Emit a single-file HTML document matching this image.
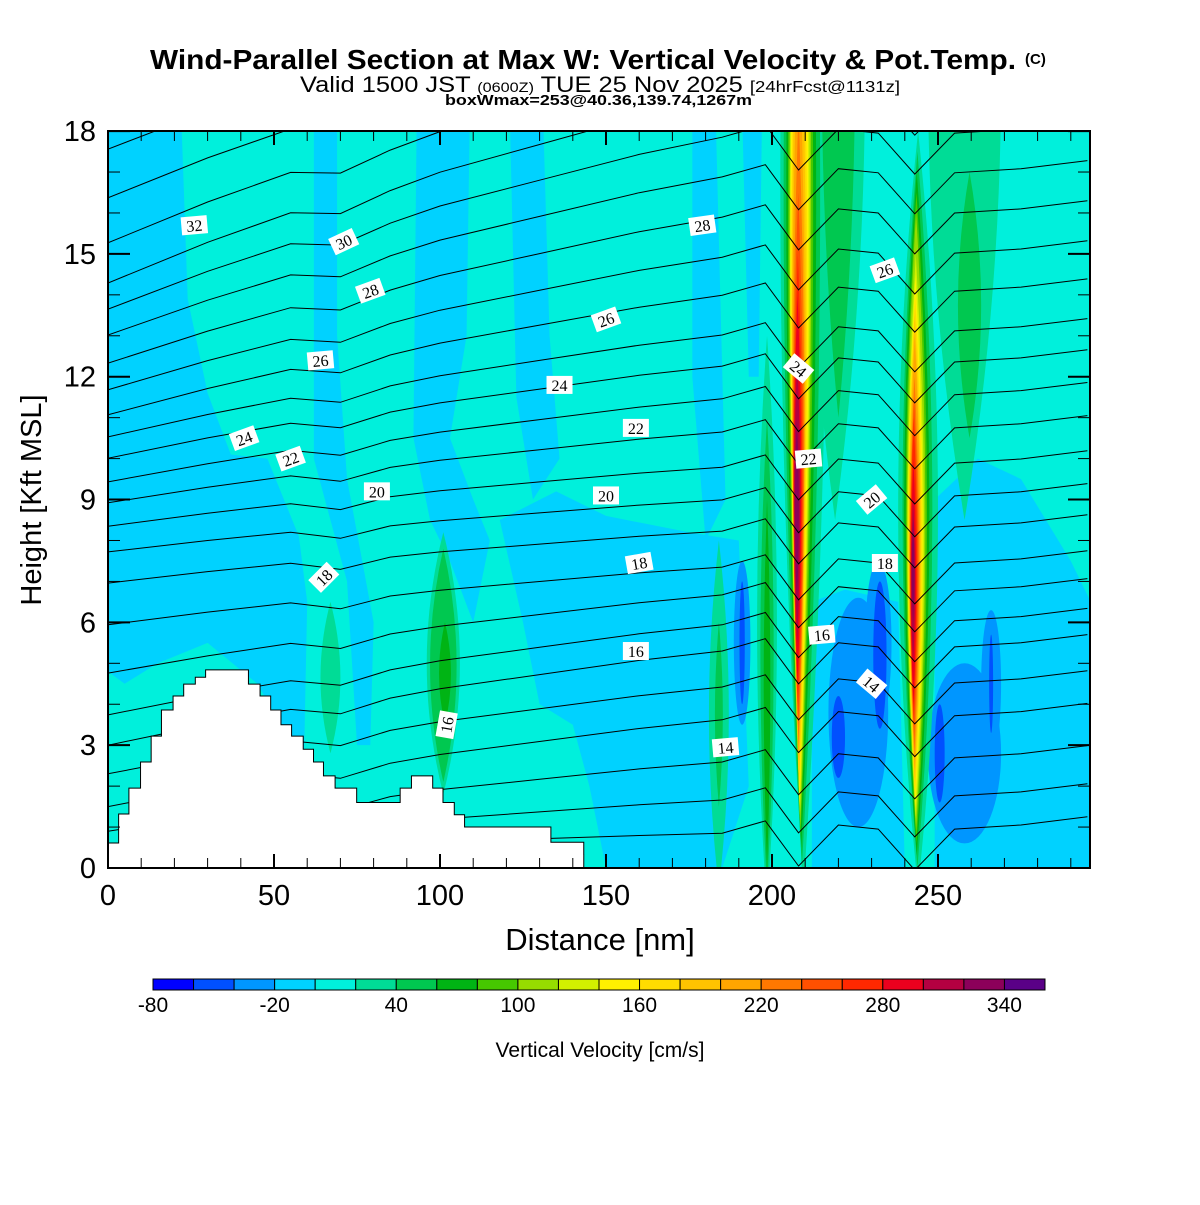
<!DOCTYPE html>
<html><head><meta charset="utf-8">
<style>
html,body{margin:0;padding:0;background:#fff;}
body{width:1200px;height:1200px;overflow:hidden;font-family:"Liberation Sans",sans-serif;}
</style></head>
<body>
<svg id="chart" width="1200" height="1200" viewBox="0 0 1200 1200" xmlns="http://www.w3.org/2000/svg" font-family="Liberation Sans, sans-serif">
<defs><clipPath id="plotclip"><rect x="108" y="131" width="982" height="737"/></clipPath></defs>
<g>
<text x="150" y="69" font-size="28" font-weight="bold" textLength="866" lengthAdjust="spacingAndGlyphs">Wind-Parallel Section at Max W: Vertical Velocity &amp; Pot.Temp.</text>
<text x="1025" y="64" font-size="15" font-weight="bold">(C)</text>
<text x="300" y="92" font-size="22" textLength="600" lengthAdjust="spacingAndGlyphs">Valid 1500 JST <tspan font-size="14">(0600Z)</tspan> TUE 25 Nov 2025 <tspan font-size="16">[24hrFcst@1131z]</tspan></text>
<text x="445" y="105" font-size="15" font-weight="bold" textLength="307" lengthAdjust="spacingAndGlyphs">boxWmax=253@40.36,139.74,1267m</text>
</g>
<g id="plot" clip-path="url(#plotclip)"></g>
<g id="axes"></g>
<g id="cbar"></g>
<text x="600" y="950" text-anchor="middle" font-size="31">Distance [nm]</text>
<text transform="translate(41,500) rotate(-90)" text-anchor="middle" font-size="29">Height [Kft MSL]</text>
<text x="600" y="1057" text-anchor="middle" font-size="21">Vertical Velocity [cm/s]</text>
</svg>
<script>
// ---- data ----
const levelValues = [-80,-60,-40,-20,0,20,40,60,80,100,120,140,160,180,200,220,240,260,280,300,320,340];
const levelColors = ["#0000FF","#0050FF","#0096FF","#00D2FF","#00F0DC","#00DC96","#00C850","#00B414","#46C800","#96DC00","#D2F000","#FFF000","#FFDC00","#FFC300","#FFA500","#FF7800","#FF5000","#FF2800","#EB001E","#B40041","#8C005A","#5A0087"];
const cbarLabels = [-80,-20,40,100,160,220,280,340];
const xTicks = [0,50,100,150,200,250];
const yTicks = [0,3,6,9,12,15,18];
// sky-blue (-20..0) regions: polygons in [nm, kft]
const skyRegions = [
 [[0,18.5],[22,18.5],[24,13.9],[30,11.6],[37,10.1],[48,10],[57.5,8.1],[60,6.5],[59,2.5],[45,4.5],[30,5.5],[15,5],[5,4.5],[0,4.8]],
 [[62,18.5],[69,18.5],[69,13],[72,9.5],[80,6],[79,3],[75,3],[72,7],[62,10]],
 [[93,18.5],[109,18.5],[108,13],[103,10.5],[110,9],[115,8],[110,6],[103,7.5],[97,8.5],[92,10.5]],
 [[121,18.5],[131,18.5],[133,13],[136,10],[128,9],[123,11.5]],
 [[118,8.5],[135,9.2],[150,8.6],[175,8.2],[190,8],[193,2],[185,0],[150,0],[145,2],[140,3.5],[130,4],[125,6]],
 [[176,18.5],[183,18.5],[186,9],[180,8],[176,12]],
 [[191,18.5],[197,18.5],[196,12],[193,12]],
 [[212,6.5],[222,6.8],[238,6.5],[240,0],[212,0]],
 [[249,9],[262,10],[275,9.5],[290,7.5],[296,6.5],[296,0],[249,0]]
];
// negative cores: [value, cx nm, rx nm, cy kft, ry kft]
const downdrafts = [
 [-40,226,9,3.8,2.8],[-40,258,11,2.8,2.2],[-40,232,4,5.5,2],[-40,191,2.5,5.5,2],[-40,266,3,4.5,1.8],
 [-60,220,2,3.2,1],[-60,232.5,2,5.2,1.8],[-60,250.5,1.5,2.8,1.2],[-60,191,0.8,5.5,1.5],[-60,266,0.6,4.5,1.2]
];
// updraft bands: [value, xc nm, half-width nm, top kft, bottom kft]
const updrafts = [
 [20,219,9,30,8.5],[40,220,5,28,11],[20,258,11,30,8.5],[40,259.5,3.5,17,10.5],
 [20,198.5,3,13,-1],[40,198.5,2,11,-0.5],[60,198.5,1,9,0],
 [20,184,3,8,-0.5],[40,184,1.2,6,1.5],
 [20,101,5,8.2,1.8],[40,101,4,7.8,2.1],[60,101.5,1.8,6,3.5],
 [20,67,3,6.5,2.8],
 [20,209.5,7,34,-0.5],[40,209,5.5,33,0],[60,208.8,4.5,32,0.5],[80,208.6,3.8,31,0.8],[100,208.5,3.3,30,1.0],
 [120,208.4,3.0,29,1.3],[140,208.3,2.7,28,1.5],[160,208.2,2.4,26,1.8],[180,208.1,2.1,24,2.2],[200,208,1.9,21,2.6],
 [220,208,1.7,18.5,3.0],[240,207.9,1.5,16.5,3.5],[260,207.8,1.3,15,4],[280,207.7,1.1,14,4.5],[300,207.6,0.9,12.5,5.5],[320,207.5,0.6,11,6.5],
 [20,244,6,18,-0.5],[40,243.8,4.5,17.5,0],[60,243.6,3.8,17,0.3],[80,243.5,3.2,16.5,0.6],[100,243.4,2.8,16,0.9],
 [120,243.3,2.5,15,1.2],[140,243.2,2.2,14.5,1.5],[160,243.1,2.0,14,1.8],[180,243,1.8,13.5,2.1],[200,243,1.6,13,2.4],
 [220,242.9,1.4,12,2.8],[240,242.8,1.2,11.5,3.2],[260,242.7,1.0,11,3.6],[280,242.6,0.8,10,4.0],[300,242.5,0.6,9,5],[320,242.5,0.4,8.5,6]
];
// isentropes: height at left edge and at 185 nm (kft)
const isoLeft = [17.56,16.37,15.27,14.29,13.65,13.02,12.33,11.68,11.07,10.53,10.01,9.43,8.92,8.35,7.72,6.96,5.94,4.76,3.74,3.0,2.3,1.5,0.9,0.5,0.3];
const isoMid  = [21.8,20.8,19.8,18.8,17.85,16.88,15.90,14.92,13.99,13.02,12.26,11.46,10.65,9.79,8.99,8.23,7.35,6.67,5.94,5.30,4.42,3.62,2.59,1.66,0.85];
const knotX    = [0,30,55,70,85,100,130,160,185,198,208,220,232,243,255,275,295];
const knotFrac = [0,0.22,0.38,0.42,0.5,0.6,0.75,0.9,1,1,1,1,1,1,1,1,1];
const knotDip  = [0,0,0,-0.2,0,0,0,0,0,0.3,-0.8,0.2,0.1,-0.9,0.1,0.2,0.4];
const isoLabels = [
 ["32",26,15.7,-5],["30",71,15.3,-25],["28",79,14.1,-20],["28",179,15.7,-8],["26",64,12.4,-5],["26",150,13.4,-20],["26",234,14.6,-20],
 ["24",41,10.5,-20],["24",136,11.8,0],["24",208,12.2,40],["22",55,10.0,-20],["22",159,10.75,0],["22",211,10.0,-5],
 ["20",81,9.2,0],["20",150,9.1,0],["20",230,9.0,-40],["18",65,7.1,-45],["18",160,7.45,-10],["18",234,7.45,0],
 ["16",102,3.5,-80],["16",159,5.3,0],["16",215,5.7,-5],["14",186,2.95,-5],["14",230,4.5,40]
];
// terrain staircase: [start nm, height kft]
const terrainX = [0,3.2,6.3,9.8,13,16.1,19.6,22.8,26.3,29.4,42.3,45.8,49,52.1,55.3,58.8,61.9,64.9,68.4,74.9,88,91.4,97.8,100.9,104.3,107.4,133.4,143.3];
const terrainH = [0.61,1.32,1.95,2.59,3.22,3.86,4.2,4.49,4.66,4.84,4.49,4.2,3.86,3.5,3.22,2.9,2.59,2.25,1.95,1.6,1.95,2.25,1.95,1.6,1.3,1.0,0.63,0.33];

// ---- scales ----
const X0=108, X1=1090, Y0=868, Y1=131;
function xs(nm){return X0+nm*3.32;}
function ys(k){return Y0-k*40.94;}
function colorOf(v){return levelColors[levelValues.indexOf(v)];}
const NS="http://www.w3.org/2000/svg";
function mk(tag,attrs,parent){const e=document.createElementNS(NS,tag);for(const k in attrs)e.setAttribute(k,attrs[k]);parent.appendChild(e);return e;}
const plot=document.getElementById('plot');

let bg=mk('rect',{x:X0,y:Y1,width:X1-X0,height:Y0-Y1,fill:colorOf(0)},plot);



skyRegions.forEach(function(poly){
 const p=mk('polygon',{points:poly.map(function(q){return xs(q[0])+','+ys(q[1]);}).join(' '),fill:colorOf(-20)},plot);
 
 
});
downdrafts.forEach(function(d){
 const e=mk('ellipse',{cx:xs(d[1]),cy:ys(d[3]),rx:d[2]*3.32,ry:d[4]*40.94,fill:colorOf(d[0])},plot);
 
 
});
updrafts.slice().sort(function(a,b){return a[0]-b[0];}).forEach(function(u){
 const xc=xs(u[1]),hw=u[2]*3.32,yt=ys(u[3]),yb=ys(u[4]),ym=(yt+yb)/2;
 const p=mk('path',{d:'M'+xc+','+yt+' Q'+(xc+2*hw)+','+ym+' '+xc+','+yb+' Q'+(xc-2*hw)+','+ym+' '+xc+','+yt+'Z',fill:colorOf(u[0])},plot);
 
 
});
// isentropes
isoLeft.forEach(function(L,i){
 const R=isoMid[i];
 const pts=knotX.map(function(x,j){return xs(x)+','+ys(L+knotFrac[j]*(R-L)+knotDip[j]).toFixed(1);});
 const pl=mk('polyline',{points:pts.join(' '),fill:'none',stroke:'#000','stroke-width':1},plot);
 
 
});
// terrain
(function(){
 let d='M'+xs(0)+','+Y0;
 terrainX.forEach(function(x,i){
  const xe=(i<terrainX.length-1)?terrainX[i+1]:x+0.01;
  d+=' L'+xs(x)+','+ys(terrainH[i])+' L'+xs(xe)+','+ys(terrainH[i]);
 });
 d+=' L'+xs(terrainX[terrainX.length-1])+','+Y0+'Z';
 const t=mk('path',{d:d,fill:'#fff',stroke:'#000','stroke-width':1},plot);
 
 
})();
// isentrope labels
isoLabels.forEach(function(l){
 const g=mk('g',{transform:'translate('+xs(l[1])+','+ys(l[2])+') rotate('+l[3]+')'},plot);
 
 
 mk('rect',{x:-13,y:-9,width:26,height:18,fill:'#fff'},g);
 const t=mk('text',{x:0,y:6,'text-anchor':'middle','font-size':16,'font-family':'Liberation Serif, serif'},g);
 t.textContent=l[0];
});
// axes
const ax=document.getElementById('axes');
const fr=mk('rect',{x:X0,y:Y1,width:X1-X0,height:Y0-Y1,fill:'none',stroke:'#000','stroke-width':2},ax);


for(let v=0;v<=290;v+=10){
 const len=(v%50===0)?14:10;
 mk('line',{x1:xs(v),x2:xs(v),y1:Y0,y2:Y0-len,stroke:'#000','stroke-width':(v%50===0)?2:1},ax);
 mk('line',{x1:xs(v),x2:xs(v),y1:Y1,y2:Y1+len,stroke:'#000','stroke-width':(v%50===0)?2:1},ax);
}
for(let v=0;v<=18;v+=1){
 const len=(v%3===0)?22:12;
 mk('line',{x1:X0,x2:X0+len,y1:ys(v),y2:ys(v),stroke:'#000','stroke-width':(v%3===0)?2:1},ax);
 mk('line',{x1:X1,x2:X1-len,y1:ys(v),y2:ys(v),stroke:'#000','stroke-width':(v%3===0)?2:1},ax);
}
xTicks.forEach(function(v){
 const t=mk('text',{x:xs(v),y:905,'text-anchor':'middle','font-size':29},ax);
 
 
 t.textContent=v;
});
yTicks.forEach(function(v){
 const t=mk('text',{x:96,y:ys(v)+10,'text-anchor':'end','font-size':29},ax);
 
 
 t.textContent=v;
});
// colorbar
const cb=document.getElementById('cbar');
const bw=892/levelColors.length;
levelColors.forEach(function(c,i){
 const r=mk('rect',{x:153+i*bw,y:979,width:bw,height:11,fill:c,stroke:'#000','stroke-width':1},cb);
 
 
});
cbarLabels.forEach(function(v){
 const i=levelValues.indexOf(v);
 const t=mk('text',{x:153+i*bw,y:1012,'text-anchor':'middle','font-size':21},cb);
 
 
 t.textContent=v;
});
</script>
</body></html>
